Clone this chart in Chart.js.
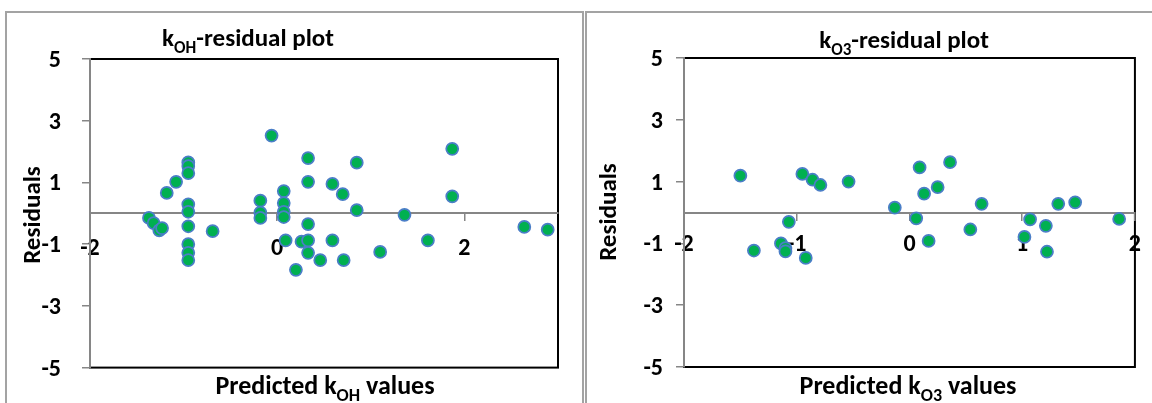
<!DOCTYPE html>
<html>
<head>
<meta charset="utf-8">
<script src="https://cdn.jsdelivr.net/npm/chart.js@4.4.1/dist/chart.umd.min.js"></script>
<style>
  html, body { margin: 0; padding: 0; background: #fff; width: 1152px; height: 403px; overflow: hidden; position: relative; }
  .panel { position: absolute; top: 11px; height: 440px; border: 2px solid #a3a3a3; box-sizing: border-box; }
  #panelOH { left: 5px; width: 579px; }
  #panelO3 { left: 585px; width: 600px; }
  canvas { position: absolute; top: 0; }
  #chartOH { left: 0; }
  #chartO3 { left: 576px; }
</style>
</head>
<body>
<div class="panel" id="panelOH"></div>
<div class="panel" id="panelO3"></div>
<canvas id="chartOH" width="576" height="403"></canvas>
<canvas id="chartO3" width="576" height="403"></canvas>
<script>
// ---- data: predicted rate constants vs. residuals ----
const kohPredicted = [-1.37, -1.32, -1.26, -1.23, -1.18, -1.08, -0.95, -0.95, -0.95, -0.95, -0.95, -0.95, -0.95, -0.95, -0.95,
  -0.69, -0.18, -0.18, -0.18, -0.06, 0.07, 0.07, 0.07, 0.07, 0.09, 0.20, 0.26, 0.33, 0.33, 0.33, 0.33, 0.33,
  0.46, 0.59, 0.70, 0.59, 0.71, 0.85, 0.85, 1.10, 1.36, 1.61, 1.87, 1.87, 2.64, 2.89];
const kohResidual = [-0.15, -0.32, -0.55, -0.48, 0.66, 1.02, 1.65, 1.53, 1.30, 0.29, 0.05, -0.42, -1.00, -1.28, -1.52,
  -0.58, 0.41, 0.02, -0.15, 2.52, 0.72, 0.33, 0.05, -0.12, -0.88, -1.83, -0.92, 1.79, 1.02, -0.35, -0.88, -1.28,
  -1.52, 0.95, 0.62, -0.88, -1.52, 1.64, 0.10, -1.25, -0.05, -0.88, 2.09, 0.55, -0.44, -0.53];

const ko3Predicted = [-1.50, -1.38, -1.07, -1.14, -1.10, -1.10, -0.92, -0.95, -0.86, -0.79, -0.54, -0.13, 0.06, 0.17,
  0.09, 0.13, 0.25, 0.36, 0.54, 0.64, 1.07, 1.02, 1.21, 1.22, 1.32, 1.47, 1.86];
const ko3Residual = [1.19, -1.23, -0.30, -1.00, -1.15, -1.26, -1.47, 1.25, 1.06, 0.89, 1.00, 0.16, -0.19, -0.92,
  1.46, 0.61, 0.82, 1.63, -0.55, 0.28, -0.22, -0.79, -0.43, -1.27, 0.28, 0.33, -0.21];

// axis ranges and tick spacing
const residualAxis = [-5, 5, 2];
const kohAxis = [-2, 3, 2];
const ko3Axis = [-2, 2, 1];

const FONT = 'Carlito, Calibri, Lato, sans-serif';
const GREY = '#868686';

// text with subscripts, centred on (cx, baseline)
function drawRich(ctx, parts, cx, baseline, size, rotate) {
  const mainFont = `bold ${size}px ${FONT}`;
  const subFont = `bold ${Math.round(size * 0.68)}px ${FONT}`;
  let total = 0;
  const widths = parts.map(p => {
    ctx.font = p.sub ? subFont : mainFont;
    const w = ctx.measureText(p.t).width;
    total += w;
    return w;
  });
  ctx.save();
  ctx.fillStyle = '#000';
  ctx.textAlign = 'left';
  ctx.textBaseline = 'alphabetic';
  let x = cx - total / 2;
  let y = baseline;
  if (rotate) {
    ctx.translate(cx, baseline);
    ctx.rotate(-Math.PI / 2);
    x = -total / 2;
    y = size * 0.35;
  }
  parts.forEach((p, i) => {
    ctx.font = p.sub ? subFont : mainFont;
    ctx.fillText(p.t, x, y + (p.sub ? size * 0.28 : 0));
    x += widths[i];
  });
  ctx.restore();
}

const richTitles = {
  id: 'richTitles',
  beforeDraw(chart) {
    const { ctx, chartArea: a } = chart;
    // plot area frame
    ctx.save();
    ctx.strokeStyle = '#000';
    ctx.lineWidth = 2;
    ctx.strokeRect(a.left, a.top, a.right - a.left, a.bottom - a.top);
    ctx.restore();
  },
  afterDraw(chart, args, opts) {
    const ctx = chart.ctx;
    (opts.items || []).forEach(it => drawRich(ctx, it.parts, it.x, it.y, it.size, it.rotate));
  }
};

function makeChart(id, xs, ys, xAxis, cfg) {
  const points = xs.map((x, i) => ({ x, y: ys[i] }));
  return new Chart(document.getElementById(id), {
    type: 'scatter',
    data: {
      datasets: [{
        data: points,
        backgroundColor: '#00B050',
        borderColor: '#4A7EC7',
        borderWidth: 1.75,
        pointRadius: 6,
        pointHoverRadius: 6
      }]
    },
    options: {
      responsive: false,
      animation: false,
      devicePixelRatio: 1,
      layout: { padding: cfg.padding },
      plugins: {
        legend: { display: false },
        tooltip: { enabled: false },
        title: { display: false },
        richTitles: { items: cfg.titles }
      },
      scales: {
        x: {
          type: 'linear',
          position: { y: 0 },
          min: xAxis[0], max: xAxis[1],
          afterFit: s => { s.height = 0; },
          ticks: {
            stepSize: xAxis[2],
            includeBounds: false,
            color: '#000',
            font: { family: FONT, size: 24, weight: 'bold' },
            padding: cfg.xPad,
            maxRotation: 0,
            autoSkip: false
          },
          grid: { drawOnChartArea: false, drawTicks: true, tickLength: 7, color: GREY, lineWidth: 1.5 },
          border: { display: true, color: GREY, width: 2 }
        },
        y: {
          type: 'linear',
          position: 'left',
          min: residualAxis[0], max: residualAxis[1],
          afterFit: s => { s.width = 62; },
          ticks: {
            stepSize: residualAxis[2],
            color: '#000',
            font: { family: FONT, size: 24, weight: 'bold' },
            padding: cfg.yPad,
            labelOffset: 2
          },
          grid: { drawOnChartArea: false, drawTicks: true, tickLength: 8, color: GREY, lineWidth: 1.5 },
          border: { display: true, color: GREY, width: 2 }
        }
      }
    },
    plugins: [richTitles]
  });
}

makeChart('chartOH', kohPredicted, kohResidual, kohAxis, {
  padding: { left: 28, right: 18, top: 59, bottom: 32 },
  xPad: 14,
  yPad: 21,
  titles: [
    { parts: [{ t: 'k' }, { t: 'OH', sub: true }, { t: '-residual plot' }], x: 248, y: 46, size: 25 },
    { parts: [{ t: 'Predicted k' }, { t: 'OH', sub: true }, { t: ' values' }], x: 325, y: 394, size: 26 },
    { parts: [{ t: 'Residuals' }], x: 31, y: 215, size: 25, rotate: true }
  ]
});

makeChart('chartO3', ko3Predicted, ko3Residual, ko3Axis, {
  padding: { left: 46, right: 12, top: 58, bottom: 36 },
  xPad: 11,
  yPad: 13,
  titles: [
    { parts: [{ t: 'k' }, { t: 'O3', sub: true }, { t: '-residual plot' }], x: 328, y: 48, size: 25 },
    { parts: [{ t: 'Predicted k' }, { t: 'O3', sub: true }, { t: ' values' }], x: 332, y: 394, size: 26 },
    { parts: [{ t: 'Residuals' }], x: 31, y: 212, size: 25, rotate: true }
  ]
});
</script>
</body>
</html>
